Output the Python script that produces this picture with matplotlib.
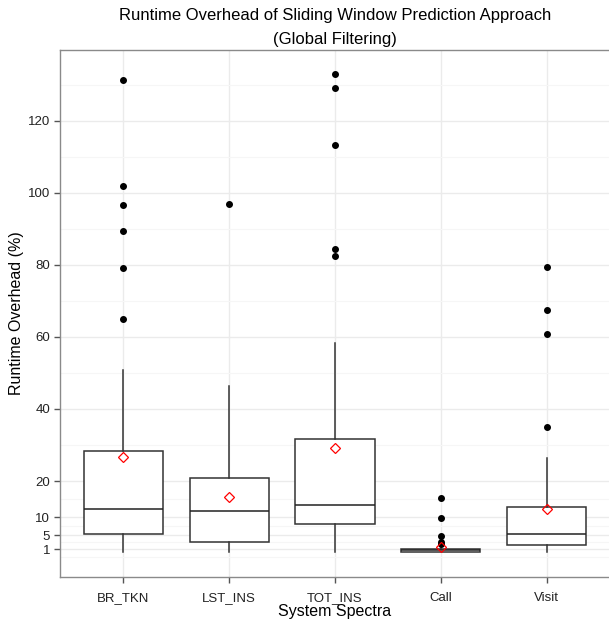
import numpy as np
import matplotlib
matplotlib.use("Agg")
import matplotlib.pyplot as plt

plt.rcParams['font.family'] = ['Liberation Sans', 'DejaVu Sans']

# values
categories = ['BR_TKN', 'LST_INS', 'TOT_INS', 'Call', 'Visit']
q1 = [5.3, 3.0, 8.1, 0.3, 2.1]
median = [12.2, 11.6, 13.3, 0.8, 5.2]
q3 = [28.4, 20.8, 31.7, 1.2, 12.9]
whisker_low = [0.4, 0.4, 0.4, 0.2, 0.4]
whisker_high = [50.8, 46.4, 58.4, 1.3, 26.3]
means = [26.7, 15.5, 29.2, 1.6, 12.3]
outliers = [
    [131.2, 101.9, 96.7, 89.4, 79.1, 64.9],
    [96.9],
    [133.1, 129.0, 113.4, 84.3, 82.5],
    [15.2, 9.7, 4.7, 3.0, 2.4],
    [79.4, 67.4, 60.8, 34.9],
]
y_ticks = [1, 5, 10, 20, 40, 60, 80, 100, 120]
y_minor = [-1, 3, 7.5, 15, 30, 50, 70, 90, 110, 130]

stats = []
for i, name in enumerate(categories):
    stats.append({'label': name, 'q1': q1[i], 'med': median[i], 'q3': q3[i],
                  'whislo': whisker_low[i], 'whishi': whisker_high[i],
                  'fliers': outliers[i], 'mean': means[i]})

fig = plt.figure(figsize=(6.09, 6.20), dpi=100)
ax = fig.add_axes([60 / 609, 43 / 620, 550 / 609, 527 / 620])

pos = np.arange(1, len(categories) + 1)
ax.bxp(stats, positions=pos, widths=0.75, patch_artist=True, showmeans=True,
       showcaps=False,
       boxprops=dict(facecolor='white', edgecolor='#333333', linewidth=1.1),
       medianprops=dict(color='#222222', linewidth=1.1),
       whiskerprops=dict(color='#333333', linewidth=1.1),
       flierprops=dict(marker='o', markerfacecolor='black', markeredgecolor='black',
                       markersize=4.0),
       meanprops=dict(marker='D', markerfacecolor='none', markeredgecolor='red',
                      markersize=5.5, markeredgewidth=0.9),
       zorder=3)

ax.set_xlim(0.4, 5.6)
ax.set_ylim(-6.65, 139.65)
ax.set_xticks(pos)
ax.set_xticklabels(categories)
ax.set_yticks(y_ticks)
ax.set_yticks(y_minor, minor=True)
ax.tick_params(axis='y', which='minor', length=0)
ax.tick_params(axis='both', which='major', length=4, color='#555555', width=1,
               labelsize=9.5, labelcolor='#222222', pad=3)
ax.tick_params(axis='x', which='major', pad=7)

ax.set_axisbelow(True)
ax.grid(True, which='major', color='#ebebeb', linewidth=1.0)
ax.grid(True, which='minor', axis='y', color='#f6f6f6', linewidth=0.8)
for side in ['left', 'bottom', 'top']:
    ax.spines[side].set_color('#8a8a8a')
    ax.spines[side].set_linewidth(1.0)
ax.spines['right'].set_visible(False)

ax.set_xlabel('System Spectra', fontsize=11.5, labelpad=0)
ax.set_ylabel('Runtime Overhead (%)', fontsize=11.5, labelpad=3)
ax.set_title('Runtime Overhead of Sliding Window Prediction Approach\n(Global Filtering)',
             fontsize=12, pad=4, linespacing=1.78)

fig.savefig('out.png', dpi=100)
